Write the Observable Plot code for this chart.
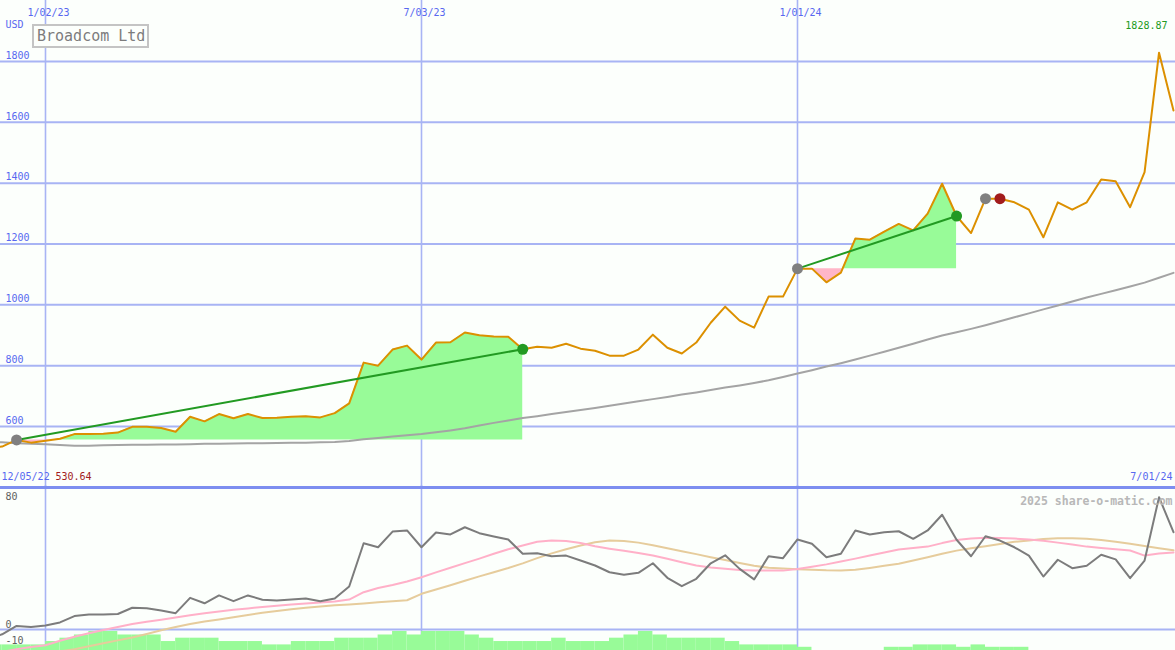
<!DOCTYPE html>
<html>
<head>
<meta charset="utf-8">
<script src="https://cdn.jsdelivr.net/npm/d3@7"></script>
<script src="https://cdn.jsdelivr.net/npm/@observablehq/plot@0.6"></script>
<style>
  html, body { margin: 0; padding: 0; background: #fcfffc; }
  #chart { position: relative; width: 1175px; height: 650px; overflow: hidden; background: #fcfffc; }
  #chart svg { position: absolute; left: 0; }
  #title { position: absolute; left: 32px; top: 24px; width: 117px; height: 24px; box-sizing: border-box;
           border: 2px solid #c4c4c4; background: #fcfffc; color: #7c7c7c;
           font: 15px "DejaVu Sans Mono", monospace; line-height: 20px; padding-left: 3px; white-space: nowrap; }
</style>
</head>
<body>
<div id="chart"><div id="title"></div></div>
<script>
// ---------------- data ----------------
const titleText = "Broadcom Ltd";
const currency = "USD";
const watermark = "2025 share-o-matic.com";
const startDate = "2022-12-05";   // first weekly close
const endDate = "2024-07-01";     // last weekly close

// weekly closing price (USD)
const prices = [530.64, 534, 556, 547, 553, 560, 575, 575, 576, 580,
  599, 599, 595, 583, 632, 617, 641, 627, 641, 628,
  629, 632, 634, 630, 644, 676, 810, 800, 853, 866,
  820, 876, 877, 909, 900, 896, 895, 854, 862, 859,
  872, 856, 849, 833, 833, 853, 902, 859, 840, 876,
  941, 994, 948, 925, 1027, 1027, 1119, 1119, 1074, 1106,
  1218, 1214, 1241, 1266, 1245, 1300, 1398, 1292, 1236, 1349,
  1349, 1337, 1313, 1222, 1337, 1313, 1337, 1412, 1406, 1321,
  1436, 1828.87, 1639];

// long moving average of price
const priceMA = [550, 548, 545, 543, 542, 539, 537, 537, 538, 539,
  540, 540, 541, 541, 542, 543, 543, 544, 545, 545,
  546, 547, 547, 548, 549, 552, 558, 562, 567, 571,
  575, 581, 587, 594, 603, 612, 620, 628, 634, 641,
  648, 654, 661, 668, 676, 683, 690, 697, 705, 712,
  720, 728, 735, 743, 752, 763, 774, 785, 797, 808,
  820, 833, 846, 859, 872, 886, 899, 910, 921, 933,
  946, 959, 972, 985, 998, 1011, 1024, 1036, 1048, 1060,
  1073, 1089, 1105];

// lower panel indicator
const indicator = [-6, -3, 2.2, 1.6, 2.5, 4.4, 8.4, 9.4, 9.4, 9.7,
  13.6, 13.3, 11.9, 10.2, 19.8, 16.4, 21.3, 17.7, 21.3, 18.6,
  18.1, 18.8, 19.4, 17.7, 19.4, 26.9, 53.9, 51.4, 61.2, 61.9,
  51.4, 60.6, 59.4, 63.9, 60.2, 58.1, 56.2, 47.3, 47.7, 45.8,
  46.2, 43.1, 40, 35.8, 34.2, 35.4, 41.4, 32.3, 27.1, 31.7,
  41.4, 46.4, 37.9, 31.3, 45.8, 44.6, 56.3, 53.6, 45.2, 47.3,
  61.9, 59.4, 60.8, 61.4, 56.7, 61.9, 71.7, 56.1, 45.8, 58.3,
  55.6, 51.4, 46.2, 33.1, 43.6, 38.3, 39.8, 46.7, 43.8, 32.1,
  43.1, 82.7, 60.8];

// indicator fast average (pink)
const indicatorFast = [-16, -14, -12.3, -11, -9.8, -7, -4.5, -2.3, -0.3, 1.6,
  3.4, 4.8, 6.1, 7.5, 8.9, 10.1, 11.2, 12.3, 13.2, 14.1,
  14.9, 15.6, 16.3, 16.9, 17.5, 18.7, 23.3, 25.9, 27.8, 30,
  32.7, 35.7, 38.6, 41.5, 44.3, 47.3, 50.2, 52.5, 54.8, 55.6,
  55.3, 54, 52, 50.5, 49.2, 47.8, 46.3, 44.2, 42, 40,
  38.8, 37.9, 37.2, 36.9, 36.8, 36.8, 37.8, 39.2, 40.7, 42.5,
  44.3, 46.2, 48.1, 50, 50.9, 51.8, 54, 55.9, 56.8, 57.3,
  57.2, 56.8, 56.3, 55.5, 54.3, 53.1, 51.8, 51, 50.2, 49.4,
  46.2, 47.5, 48.2];

// indicator slow average (tan)
const indicatorSlow = [-20, -19, -17.5, -16, -15, -13.7, -12.4, -10.5, -8.6, -6.8,
  -5, -2.8, -0.5, 1.5, 3.4, 5, 6.3, 7.7, 9.1, 10.4,
  11.5, 12.6, 13.6, 14.4, 15.1, 15.7, 16.3, 17, 17.6, 18.3,
  22.3, 25, 27.7, 30.5, 33.2, 35.8, 38.4, 41.3, 44.6, 47.6,
  50.2, 52.5, 54.5, 55.6, 55.3, 54.3, 52.6, 50.8, 48.9, 47.1,
  45.2, 43.4, 41.5, 39.8, 38.6, 38.1, 37.7, 37.3, 37, 36.9,
  37.4, 38.5, 39.8, 41.1, 43.1, 45.2, 47.3, 49.3, 50.8, 52.1,
  53.5, 54.8, 55.7, 56.5, 57, 57.1, 56.7, 55.9, 54.9, 53.6,
  52.2, 50.8, 49.5];

// relative weekly volume (bottom histogram, in indicator units)
const volume = [3.5, 3.5, 3.5, 3.5, 5.6, 7.7, 9.7, 11.9, 11.9, 9.7,
  9.7, 9.7, 5.6, 7.7, 7.7, 7.7, 5.6, 5.6, 5.6, 3.5,
  3.5, 5.6, 5.6, 5.6, 7.7, 7.7, 7.7, 9.7, 11.9, 9.7,
  11.9, 11.9, 11.9, 9.7, 7.7, 5.6, 5.6, 5.6, 5.6, 7.7,
  5.6, 5.6, 5.6, 7.7, 9.7, 11.9, 9.7, 7.7, 7.7, 7.7,
  7.7, 5.6, 3.5, 3.5, 3.5, 3.5, 2, 0, 0, 0,
  0, 0, 2, 2, 3.5, 3.5, 3.5, 2, 3.5, 2,
  2, 2, 0, 0, 0, 0, 0, 0, 0, 0,
  0, 0, 0];

// trades: entry (grey dot) and exit signal
const tradeEntries = ["2022-12-19", "2024-01-01", "2024-04-01"];
const tradeExits   = ["2023-08-21", "2024-03-18", "2024-04-08"];
const tradeOutcome = ["gain", "gain", "flat"];

const gridDates = ["2023-01-02", "2023-07-03", "2024-01-01"];
const priceTicks = [600, 800, 1000, 1200, 1400, 1600, 1800];
const indicatorTicks = [80, 0, -10];
const indicatorGrid = [0];

// ---------------- styles ----------------
const W = 1175;
const MONO = "DejaVu Sans Mono, monospace";
const GRID = "#a8b4f4", SEP = "#7d8ef0", BLUE = "#5868f0";
const ORANGE = "#dc9000", MAGREY = "#a4a4a4", GREEN = "#229a22", RED = "#a21c1c", DOTGREY = "#808080";
const FILLGREEN = "#98fb98", FILLPINK = "#ffb6c8";
const OSCGREY = "#7c7c7c", PINK = "#ffb0c8", TAN = "#e6cc9c";

const xDomain = [new Date("2022-12-11T05:16:00Z"), new Date("2024-07-01T23:17:00Z")];
const priceDomain = [399.5, 2000.5];
const oscDomain = [-13.125, 90];
const separatorValue = 88.75;

// ---------------- build tables ----------------
const fmt = d3.utcFormat("%-m/%d/%y");
const dates = d3.utcMonday.range(new Date(startDate), d3.utcDay.offset(new Date(endDate), 1)).slice(0, prices.length);
const series = dates.map((d, i) => ({
  date: d, next: d3.utcWeek.offset(d, 1), price: prices[i], ma: priceMA[i],
  ind: indicator[i], fast: indicatorFast[i], slow: indicatorSlow[i], vol: volume[i]
}));
const idx = s => dates.findIndex(d => +d === +new Date(s));

const trades = tradeEntries.map((e, k) => {
  const a = idx(e), b = idx(tradeExits[k]);
  return { a, b, entryDate: dates[a], entryPrice: prices[a], exitDate: dates[b], exitPrice: prices[b], outcome: tradeOutcome[k] };
});

// profit / loss fill between entry price and price path (with exact crossings)
const fillPts = [];
trades.forEach((t, k) => {
  const base = t.entryPrice;
  for (let i = t.a; i <= t.b; i++) {
    if (i > t.a) {
      const p0 = prices[i - 1] - base, p1 = prices[i] - base;
      if (p0 * p1 < 0) {
        const f = p0 / (p0 - p1);
        fillPts.push({ trade: k, base, price: base, date: new Date(+dates[i - 1] + f * (dates[i] - dates[i - 1])) });
      }
    }
    fillPts.push({ trade: k, base, price: prices[i], date: dates[i] });
  }
});

const maxIdx = d3.maxIndex(prices);
const txt = { fontFamily: MONO, fontSize: 10 };

// ---------------- upper panel ----------------
const upper = Plot.plot({
  width: W, height: 487, margin: 0,
  x: { type: "utc", domain: xDomain },
  y: { domain: priceDomain },
  style: { background: "transparent" },
  marks: [
    Plot.ruleY(priceTicks, { stroke: GRID, strokeWidth: 2 }),
    Plot.ruleX(gridDates.map(d => new Date(d)), { stroke: GRID, strokeWidth: 1.6 }),
    Plot.areaY(fillPts, { x: "date", y1: "base", y2: d => Math.max(d.price, d.base), z: "trade", fill: FILLGREEN }),
    Plot.areaY(fillPts, { x: "date", y1: d => Math.min(d.price, d.base), y2: "base", z: "trade", fill: FILLPINK }),
    Plot.line(series, { x: "date", y: "ma", stroke: MAGREY, strokeWidth: 2 }),
    Plot.line(series, { x: "date", y: "price", stroke: ORANGE, strokeWidth: 2 }),
    Plot.link(trades.filter(t => t.outcome === "gain"), { x1: "entryDate", y1: "entryPrice", x2: "exitDate", y2: "exitPrice", stroke: GREEN, strokeWidth: 2 }),
    Plot.dot(trades, { x: "entryDate", y: "entryPrice", r: 5.5, fill: DOTGREY }),
    Plot.dot(trades, { x: "exitDate", y: "exitPrice", r: 5.5, fill: d => d.outcome === "gain" ? GREEN : RED }),
    Plot.text(priceTicks, { y: d => d, text: d => String(d), frameAnchor: "left", textAnchor: "start", dx: 5, dy: -6, fill: BLUE, ...txt }),
    Plot.text(gridDates.map(d => new Date(d)), { x: d => d, text: d => fmt(d), frameAnchor: "top", dx: 3, dy: 8, fill: BLUE, ...txt }),
    Plot.text([currency], { text: d => d, frameAnchor: "top-left", textAnchor: "start", dx: 5, dy: 20, fill: BLUE, ...txt }),
    Plot.text([prices[maxIdx]], { text: d => d.toFixed(2), frameAnchor: "top-right", textAnchor: "end", dx: -8, dy: 21, fill: GREEN, ...txt }),
    Plot.text([dates[0]], { text: d => fmt(d), frameAnchor: "bottom-left", textAnchor: "start", dx: 1, dy: -8, fill: BLUE, ...txt }),
    Plot.text([prices[0]], { text: d => d.toFixed(2), frameAnchor: "bottom-left", textAnchor: "start", dx: 55, dy: -8, fill: RED, ...txt }),
    Plot.text([dates[dates.length - 1]], { text: d => fmt(d), frameAnchor: "bottom-right", textAnchor: "end", dx: -3, dy: -8, fill: BLUE, ...txt })
  ]
});
upper.style.top = "0px";

// ---------------- lower panel ----------------
const lower = Plot.plot({
  width: W, height: 165, margin: 0,
  x: { type: "utc", domain: xDomain },
  y: { domain: oscDomain },
  style: { background: "transparent" },
  marks: [
    Plot.ruleY(indicatorGrid, { stroke: GRID, strokeWidth: 2 }),
    Plot.ruleX(gridDates.map(d => new Date(d)), { stroke: GRID, strokeWidth: 1.6 }),
    Plot.rect(series.filter(d => d.vol > 0), { x1: "date", x2: "next", y1: () => oscDomain[0], y2: d => oscDomain[0] + d.vol, fill: FILLGREEN }),
    Plot.line(series, { x: "date", y: "slow", stroke: TAN, strokeWidth: 2 }),
    Plot.line(series, { x: "date", y: "fast", stroke: PINK, strokeWidth: 2 }),
    Plot.line(series, { x: "date", y: "ind", stroke: OSCGREY, strokeWidth: 2 }),
    Plot.ruleY([separatorValue], { stroke: SEP, strokeWidth: 3 }),
    Plot.text(indicatorTicks, { y: d => d, text: d => String(d), frameAnchor: "left", textAnchor: "start", dx: 5, dy: -5, fill: "#606060", ...txt }),
    Plot.text([watermark], { text: d => d, frameAnchor: "top-right", textAnchor: "end", dx: -3, dy: 11, fill: "#b8b8b8", fontFamily: MONO, fontSize: 11.5, fontWeight: "bold" })
  ]
});
lower.style.top = "485px";

const chart = document.getElementById("chart");
chart.insertBefore(upper, chart.firstChild);
chart.insertBefore(lower, document.getElementById("title"));
document.getElementById("title").textContent = titleText;
</script>
</body>
</html>
